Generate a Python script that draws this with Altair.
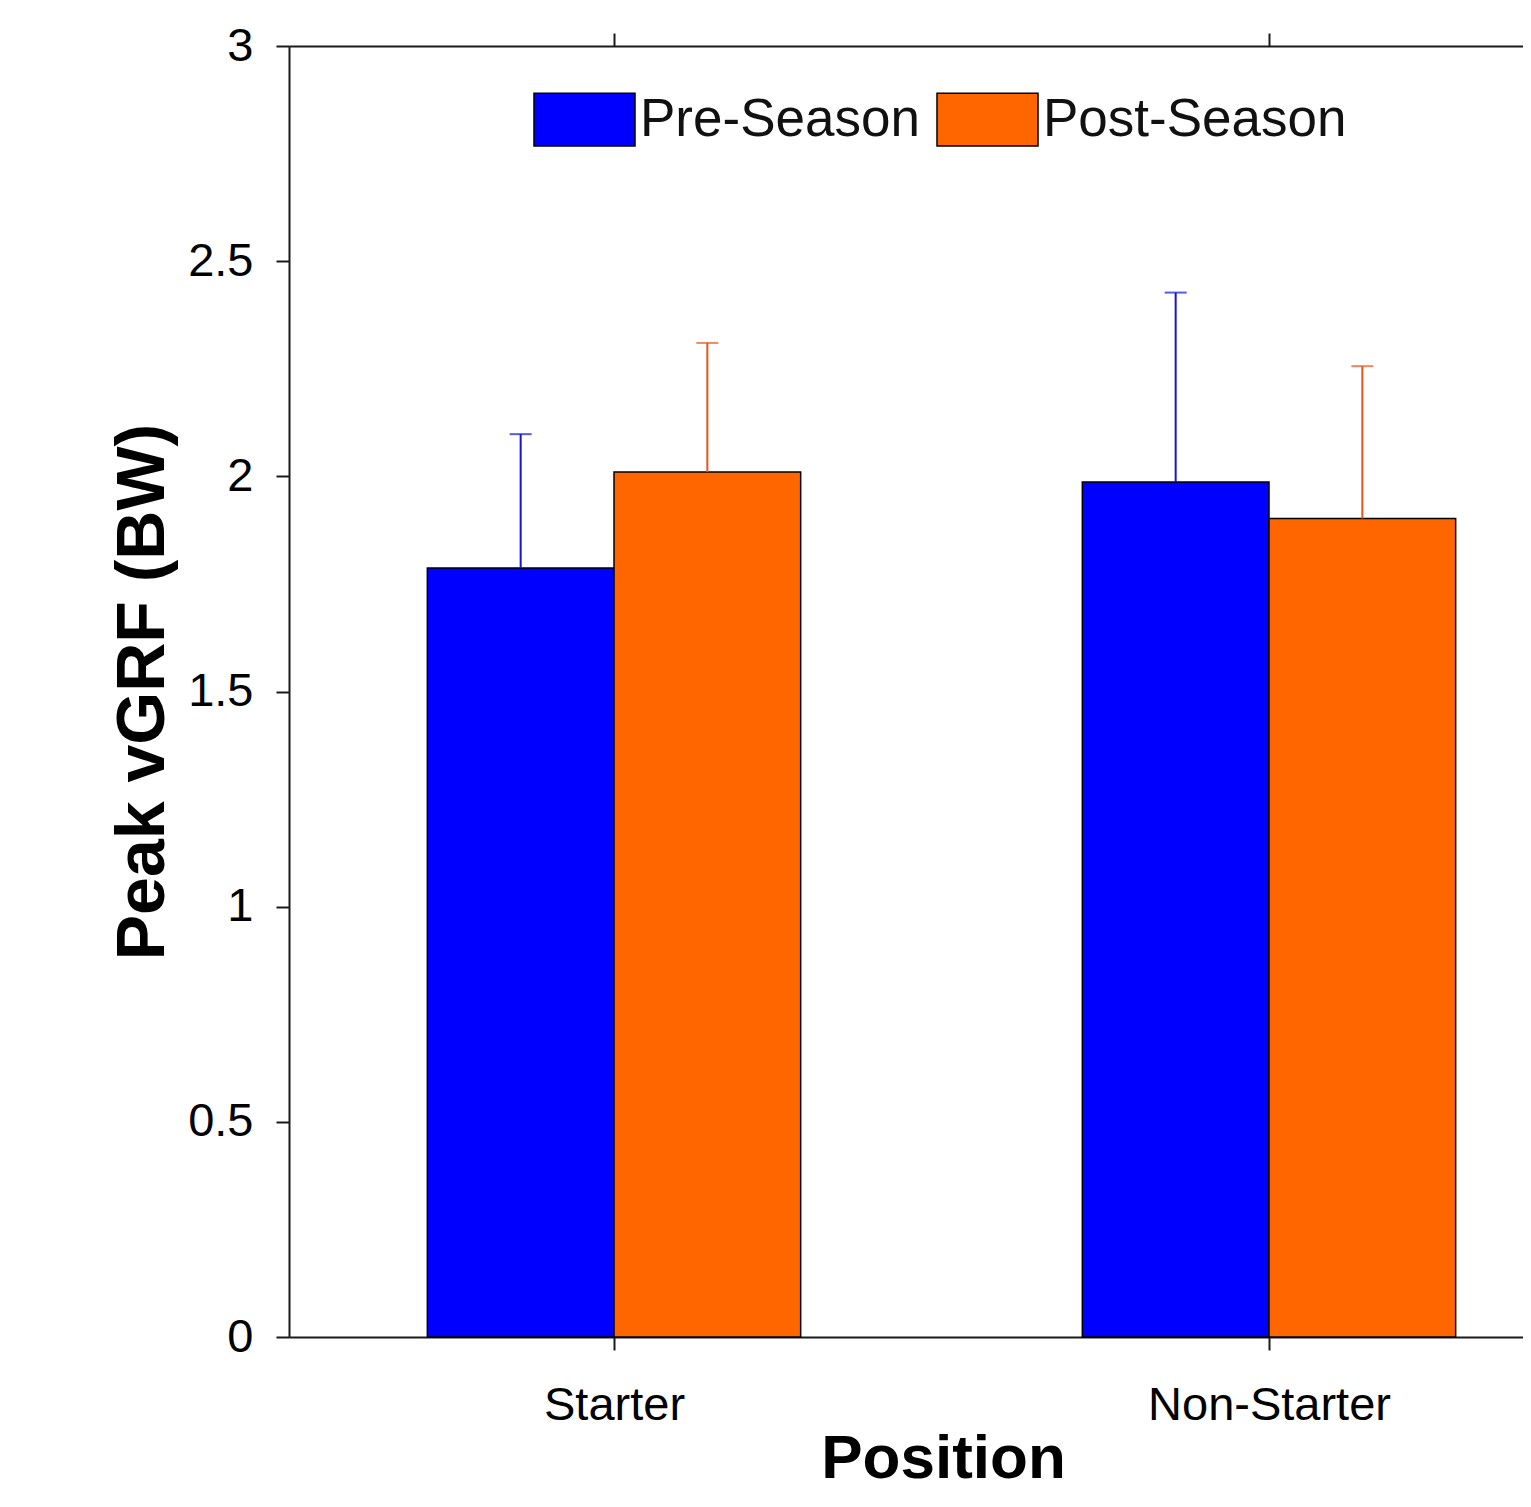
import json
import altair as alt
import pandas as pd

# ---- data ----
positions = ["Starter", "Non-Starter"]
seasons = ["Pre-Season", "Post-Season"]
pre_means = [1.787, 1.987]
post_means = [2.010, 1.902]
pre_sd = [0.311, 0.440]
post_sd = [0.300, 0.354]
y_ticks = [0, 0.5, 1, 1.5, 2, 2.5, 3]

bar_colors = ["#0000ff", "#ff6600"]
err_colors = ["#1414d2", "#e5561c"]

rows = []
for i, pos in enumerate(positions):
    rows.append({"position": pos, "idx": i + 1, "season": seasons[0],
                 "value": pre_means[i], "err": pre_sd[i]})
    rows.append({"position": pos, "idx": i + 1, "season": seasons[1],
                 "value": post_means[i], "err": post_sd[i]})
df = pd.DataFrame(rows)

BAR_W = 0.285
PLOT_W = 1234
PLOT_H = 1291
UNIT = 655.0
X_MIN = 1 - 325 / UNIT
X_MAX = X_MIN + PLOT_W / UNIT  # right side of the axes is cropped in the reference

FONT = "Liberation Sans"
AX = "#1a1a1a"
LBL = "#262626"

line_style = dict(domainColor=AX, domainWidth=2, domainOpacity=1,
                  tickColor=AX, tickWidth=2, tickOpacity=1)

base = alt.Chart(df).transform_calculate(
    side=f"datum.season == '{seasons[0]}' ? -1 : 1",
).transform_calculate(
    x0=f"datum.idx + (datum.side < 0 ? -{BAR_W} : 0)",
    x1=f"datum.idx + (datum.side < 0 ? 0 : {BAR_W})",
    xc=f"datum.idx + datum.side * {BAR_W / 2}",
    upper="datum.value + datum.err",
)

xscale = alt.Scale(domain=[X_MIN, X_MAX], nice=False, zero=False)
yscale = alt.Scale(domain=[0, 3], nice=False, zero=True)

label_expr = f"{json.dumps(positions)}[datum.value - 1]"

bottom_axis = alt.Axis(
    orient="bottom", values=[1, 2], labelExpr=label_expr, title="Position",
    tickSize=13, labelPadding=32, titlePadding=0, titleX=654, grid=False,
    labelFontSize=47, labelLimit=600, titleFontSize=62, titleFontWeight="bold",
    **line_style,
)
top_axis = alt.Axis(
    orient="top", values=[1, 2], labels=False, tickSize=13, grid=False,
    **line_style,
)
y_axis = alt.Axis(
    values=y_ticks, format="~g", title="Peak vGRF (BW)", tickSize=13,
    labelPadding=23, titlePadding=10, grid=False, labelFontSize=47,
    titleFontSize=68, titleFontWeight="bold",
    **line_style,
)

legend = alt.Legend(
    title=None, orient="none", legendX=244, legendY=22, direction="horizontal",
    symbolType="M-1,-0.52H1V0.52H-1Z", symbolSize=10201,
    symbolStrokeColor="black", symbolStrokeWidth=1.5, symbolOpacity=1,
    labelFont=FONT, labelFontSize=53, labelColor="#111111", labelLimit=1000,
    labelOffset=4, columnPadding=14, padding=0,
)

bars = base.mark_rect(stroke="black", strokeWidth=1.5).encode(
    x=alt.X("x0:Q", scale=xscale, axis=bottom_axis),
    x2="x1:Q",
    y=alt.Y("value:Q", scale=yscale, axis=y_axis),
    y2=alt.datum(0),
    color=alt.Color("season:N", scale=alt.Scale(domain=seasons, range=bar_colors),
                    legend=legend),
)

err_color = alt.Color("season:N", scale=alt.Scale(domain=seasons, range=err_colors),
                      legend=None)

errs = base.mark_rule(strokeWidth=2).encode(
    x=alt.X("xc:Q", scale=xscale, axis=top_axis, title=None),
    y=alt.Y("value:Q", scale=yscale),
    y2="upper:Q",
    color=err_color,
)

caps = base.mark_tick(orient="horizontal", size=22, thickness=2).encode(
    x=alt.X("xc:Q", scale=xscale, axis=None),
    y=alt.Y("upper:Q", scale=yscale),
    color=err_color,
)

chart = (
    alt.layer(bars, errs, caps)
    .resolve_scale(color="independent")
    .resolve_axis(x="independent")
    .properties(
        width=PLOT_W, height=PLOT_H,
        padding={"left": 281, "top": 38, "right": 0, "bottom": 156},
        autosize=alt.AutoSizeParams(type="none"),
    )
    .configure_view(stroke=None)
    .configure_axis(
        labelColor=LBL, titleColor=LBL, labelFont=FONT, titleFont=FONT,
    )
    .configure(background="white")
)

chart.save("out.html", embed_options={"renderer": "svg", "actions": False})
